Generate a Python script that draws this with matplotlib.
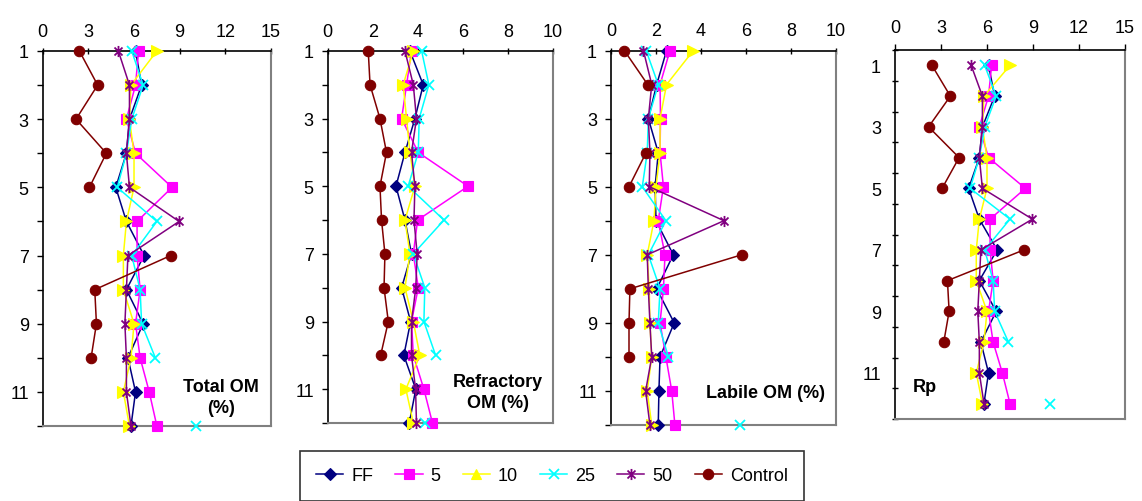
import numpy as np
import matplotlib
matplotlib.use("Agg")
import matplotlib.pyplot as plt
from matplotlib.path import Path
from matplotlib.lines import Line2D

plt.rcParams['font.family'] = ['Liberation Sans', 'DejaVu Sans']

nan = np.nan
depth = list(range(1, 13))
series_names = ["FF", "5", "10", "25", "50", "Control"]

# Total OM (%)
total_ff      = [6.1, 6.5, 5.7, 5.5, 4.8, 5.5, 6.66, 5.5, 6.6, 5.6, 6.1, 5.8]
total_5       = [6.3, 6.1, 5.5, 6.1, 8.5, 6.2, 6.2, 6.4, 6.1, 6.4, 7.0, 7.5]
total_10      = [7.5, 5.8, 5.7, 6.0, 6.0, 5.5, 5.3, 5.3, 6.0, 5.8, 5.3, 5.7]
total_25      = [5.85, 6.6, 5.85, 5.5, 4.9, 7.5, 5.85, 6.4, 6.5, 7.4, nan, 10.1]
total_50      = [4.97, 5.7, 5.7, 5.5, 5.7, 8.96, 5.6, 5.5, 5.4, 5.5, 5.5, 5.8]
total_control = [2.41, 3.61, 2.19, 4.18, 3.07, nan, 8.41, 3.42, 3.53, 3.18, nan, nan]

# Refractory OM (%)
refr_ff      = [3.65, 4.24, 3.87, 3.43, 3.03, 3.43, 3.72, 3.28, 3.68, 3.38, 3.91, 3.62]
refr_5       = [3.72, 3.5, 3.28, 4.02, 6.23, 3.99, 3.8, 4.02, 3.72, 3.8, 4.27, 4.65]
refr_10      = [3.8, 3.35, 3.5, 3.65, 3.87, 3.43, 3.65, 3.43, 3.8, 4.09, 3.47, 3.8]
refr_25      = [4.17, 4.49, 4.06, 4.02, 3.57, 5.16, 3.8, 4.31, 4.27, 4.79, nan, 4.34]
refr_50      = [3.43, 3.8, 3.94, 3.72, 3.87, 3.83, 3.97, 3.91, 3.72, 3.72, 3.9, 3.94]
refr_control = [1.8, 1.88, 2.32, 2.61, 2.32, 2.39, 2.54, 2.5, 2.69, 2.35, nan, nan]

# Labile OM (%)
lab_ff      = [2.47, 2.03, 1.66, 2.1, 1.96, 2.0, 2.77, 2.03, 2.81, 2.18, 2.13, 2.1]
lab_5       = [2.62, 2.18, 2.2, 2.18, 2.33, 2.1, 2.4, 2.33, 2.18, 2.44, 2.7, 2.84]
lab_10      = [3.66, 2.47, 2.18, 2.18, 2.0, 1.91, 1.61, 1.7, 1.73, 1.81, 1.61, 1.81]
lab_25      = [1.56, 2.1, 1.66, 1.61, 1.39, 2.44, 1.66, 2.18, 2.1, 2.55, nan, 5.73]
lab_50      = [1.44, 1.81, 1.66, 1.73, 1.7, 5.02, 1.61, 1.66, 1.73, 1.81, 1.54, 1.73]
lab_control = [0.59, 1.63, nan, 1.56, 0.8, nan, 5.81, 0.84, 0.8, 0.8, nan, nan]

# Rp
rp_ff      = [6.1, 6.5, 5.7, 5.5, 4.8, 5.5, 6.66, 5.5, 6.6, 5.6, 6.1, 5.8]
rp_5       = [6.3, 6.1, 5.5, 6.1, 8.5, 6.2, 6.2, 6.4, 6.1, 6.4, 7.0, 7.5]
rp_10      = [7.5, 5.8, 5.7, 6.0, 6.0, 5.5, 5.3, 5.3, 6.0, 5.8, 5.3, 5.7]
rp_25      = [5.85, 6.6, 5.85, 5.5, 4.9, 7.5, 5.85, 6.4, 6.5, 7.4, nan, 10.1]
rp_50      = [4.97, 5.7, 5.7, 5.5, 5.7, 8.96, 5.6, 5.5, 5.4, 5.5, 5.5, 5.8]
rp_control = [2.41, 3.61, 2.19, 4.18, 3.07, nan, 8.41, 3.42, 3.53, 3.18, nan, nan]

panel_titles = ["Total OM\n(%)", "Refractory\nOM (%)", "Labile OM (%)", "Rp"]
x_maxes = [15, 10, 10, 15]
x_ticks = [[0, 3, 6, 9, 12, 15], [0, 2, 4, 6, 8, 10], [0, 2, 4, 6, 8, 10], [0, 3, 6, 9, 12, 15]]
y_labels = [1, 3, 5, 7, 9, 11]

panels = [
    [total_ff, total_5, total_10, total_25, total_50, total_control],
    [refr_ff, refr_5, refr_10, refr_25, refr_50, refr_control],
    [lab_ff, lab_5, lab_10, lab_25, lab_50, lab_control],
    [rp_ff, rp_5, rp_10, rp_25, rp_50, rp_control],
]

star = Path([(0, -1), (0, 1), (-0.72, -0.72), (0.72, 0.72), (-0.72, 0.72), (0.72, -0.72)],
            [Path.MOVETO, Path.LINETO, Path.MOVETO, Path.LINETO, Path.MOVETO, Path.LINETO])

colors = ['#000080', '#FF00FF', '#FFFF00', '#00FFFF', '#800080', '#800000']
markers = ['D', 's', '>', 'x', star, 'o']
legend_markers = ['D', 's', '^', 'x', star, 'o']
msizes = [6, 7, 8, 7, 8, 7.5]

W, H = 1142, 502
fig = plt.figure(figsize=(W / 100, H / 100), dpi=100)

boxes = [(42.7, 271, 52, 427), (327.7, 553, 52, 424), (611, 836, 51.5, 426), (895, 1125, 51, 420)]
title_pos = [(0.781, 0.077), (0.756, 0.083), (0.688, 0.088), (0.13, 0.087)]

for i, (l, r, t, b) in enumerate(boxes):
    ax = fig.add_axes([l / W, 1 - b / H, (r - l) / W, (b - t) / H])
    for j, vals in enumerate(panels[i]):
        mk = markers[j]
        ax.plot(vals, depth, color=colors[j], marker=mk, markersize=msizes[j],
                linewidth=1.1, markeredgewidth=1.3 if j in (3, 4) else 0.8,
                markeredgecolor=colors[j], clip_on=False, zorder=3 + j * 0.01)
    ax.set_xlim(0, x_maxes[i])
    ax.set_xticks(x_ticks[i])
    ax.xaxis.tick_top()
    ax.tick_params(axis='x', labelsize=13, length=4, width=1, direction='inout' if i < 3 else 'out', pad=6)
    if i < 3:
        ax.set_ylim(12, 1)
        ax.set_yticks(depth)
        ax.set_yticklabels([str(d) if d in y_labels else '' for d in depth])
        ax.tick_params(axis='y', labelsize=13, length=4, width=1, direction='out', pad=6)
    else:
        ax.set_ylim(12.5, 0.5)
        ax.set_yticks(np.arange(0.5, 13, 1.0))
        ax.set_yticklabels([])
        ax.set_yticks(y_labels, minor=True)
        ax.set_yticklabels([str(v) for v in y_labels], minor=True)
        ax.tick_params(axis='y', which='major', length=5, width=1, direction='inout')
        ax.tick_params(axis='y', which='minor', length=0, labelsize=13, pad=10)
    for s in ['left', 'top']:
        ax.spines[s].set_color('black')
        ax.spines[s].set_linewidth(1.2)
    for s in ['right', 'bottom']:
        ax.spines[s].set_color('#808080')
        ax.spines[s].set_linewidth(1.5)
    ax.text(title_pos[i][0], title_pos[i][1], panel_titles[i], transform=ax.transAxes,
            ha='center', va='center', fontsize=13, fontweight='bold', multialignment='center',
            linespacing=1.3, zorder=10)

handles = [Line2D([], [], color=colors[j], marker=legend_markers[j], markersize=msizes[j] if j != 2 else 7,
                  linewidth=1.1, markeredgewidth=1.3 if j in (3, 4) else 0.8) for j in range(6)]
leg = fig.legend(handles, series_names, loc='upper left', bbox_to_anchor=(300 / W, 1 - 452 / H),
                 ncol=6, fontsize=13, frameon=True, fancybox=False, edgecolor='black',
                 handlelength=1.5, handletextpad=0.45, columnspacing=1.22, borderpad=0.9,
                 borderaxespad=0)
leg.get_frame().set_linewidth(1.2)

fig.savefig('out.png', dpi=100)
